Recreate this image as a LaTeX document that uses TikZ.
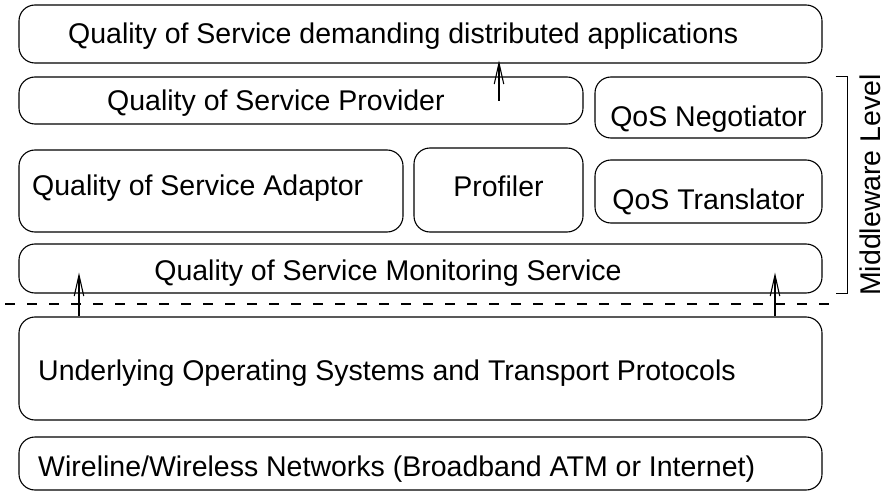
\documentclass[tikz,border=0pt]{standalone}
\usepackage{fontspec}
\setmainfont{Liberation Sans}
\usetikzlibrary{arrows.meta,calc}
\begin{document}
\begin{tikzpicture}[x=1pt,y=-1pt,
  box/.style={draw, line width=1.1pt, rounded corners=16pt, inner sep=0pt},
  lbl/.style={anchor=base, inner sep=0pt, font=\fontsize{28.5}{32}\selectfont},
  lblw/.style={lbl, anchor=base west},
  uparrow/.style={line width=1.1pt, -{Straight Barb[length=21pt,width=9.5pt,line width=1.1pt]}},
  layerline/.style={line width=1.1pt, dash pattern=on 10pt off 12pt}]
\useasboundingbox (0,0) rectangle (886,492);

% boxes (centre, width, height)
\node[box, minimum width=803pt, minimum height=58pt] (app)  at (420.5,34)  {};
\node[box, minimum width=564pt, minimum height=47pt] (prov) at (301,100.5) {};
\node[box, minimum width=227pt, minimum height=61pt] (neg)  at (708.5,107.5) {};
\node[box, minimum width=384pt, minimum height=82pt] (adap) at (211,191)   {};
\node[box, minimum width=169pt, minimum height=84pt] (prof) at (498.5,190) {};
\node[box, minimum width=227pt, minimum height=63pt] (tran) at (708.5,191.5) {};
\node[box, minimum width=803pt, minimum height=49pt] (mon)  at (420.5,268.5) {};
\node[box, minimum width=803pt, minimum height=103pt] (os)  at (420.5,368.5) {};
\node[box, minimum width=803pt, minimum height=53pt] (net)  at (420.5,463.5) {};

% texts
\node[lblw] (tapp)  at (68,44)   {Quality of Service demanding distributed applications};
\node[lblw] (tprov) at (107,111) {Quality of Service Provider};
\node[lbl]  (tneg)  at (708.5,127) {QoS Negotiator};
\node[lblw] (tadap) at (32,195)  {Quality of Service Adaptor};
\node[lbl]  (tprof) at (498.5,196) {Profiler};
\node[lbl]  (ttran) at (708.5,209) {QoS Translator};
\node[lbl]  (tmon)  at (388,280) {Quality of Service Monitoring Service};
\node[lblw] (tos)   at (38,380)  {Underlying Operating Systems and Transport Protocols};
\node[lblw] (tnet)  at (38,476)  {Wireline/Wireless Networks (Broadband ATM or Internet)};

% middleware bracket and its label
\coordinate (brtop) at ($(neg.north east)+(13,0)$);
\coordinate (brbot) at ($(mon.south east)+(13,0)$);
\draw[line width=1.1pt] (brtop) -- ++(12,0) |- (brbot);
\node[lbl, anchor=center, rotate=90] (mw) at (870,185) {Middleware Level};

% boundary between middleware and the operating system
\coordinate (dl) at (5,304);
\coordinate (dr) at (835,304);
\draw[layerline] (dl) -- (dr);

% arrows
\coordinate (a1) at (499,101);
\draw[uparrow] (a1) -- ([yshift=3pt]a1 |- app.south);
\coordinate (a2) at (79,0);
\draw[uparrow] (a2 |- os.north) -- ([yshift=21pt]a2 |- mon.south);
\coordinate (a3) at (775,0);
\draw[uparrow] (a3 |- os.north) -- ([yshift=21pt]a3 |- mon.south);
\end{tikzpicture}
\end{document}
